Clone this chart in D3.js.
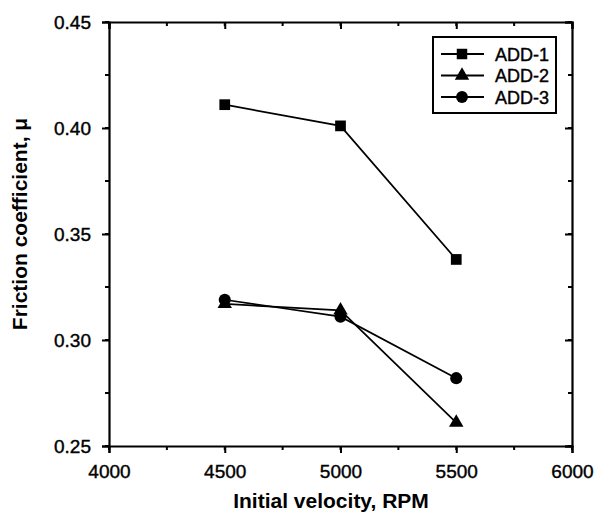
<!DOCTYPE html>
<html>
<head>
<meta charset="utf-8">
<script src="https://cdn.jsdelivr.net/npm/d3@7"></script>
<style>
  body { margin: 0; background: #fff; }
  text { font-family: "Liberation Sans", Arial, sans-serif; fill: #000; }
</style>
</head>
<body>
<svg width="597" height="517"></svg>
<script>
// velocities (RPM)
var velocities = [4500, 5000, 5500];
// friction coefficient per additive
var add1 = [0.411, 0.401, 0.338];
var add2 = [0.317, 0.314, 0.261];
var add3 = [0.319, 0.311, 0.282];
var seriesNames = ["ADD-1", "ADD-2", "ADD-3"];
var seriesSymbols = [d3.symbolSquare, d3.symbolTriangle, d3.symbolCircle];
var xTicks = [4000, 4500, 5000, 5500, 6000];
var yTicks = [0.25, 0.30, 0.35, 0.40, 0.45];

var series = [add1, add2, add3].map(function (vals, i) {
    return {
        name: seriesNames[i],
        symbol: seriesSymbols[i],
        points: vals.map(function (v, j) { return { x: velocities[j], y: v }; })
    };
});

var svg = d3.select("svg");
// plot frame (note: "top" is reserved on window, so use plotTop)
var plotLeft = 109, plotRight = 572, plotTop = 22, plotBottom = 446;

var x = d3.scaleLinear().domain([4000, 6000]).range([plotLeft, plotRight]);
var y = d3.scaleLinear().domain([0.25, 0.45]).range([plotBottom, plotTop]);

var minorX = d3.range(4000, 6001, 250);
var minorY = d3.range(0, 9).map(function (i) { return 0.25 + i * 0.025; });

// bottom axis (ticks outside)
var gx = svg.append("g").attr("transform", "translate(0," + plotBottom + ")")
    .call(d3.axisBottom(x).tickValues(xTicks).tickFormat(d3.format("d")).tickSize(7).tickPadding(12));
gx.append("g").selectAll("line").data(minorX).join("line")
    .attr("x1", x).attr("x2", x).attr("y1", 0).attr("y2", 4).attr("stroke", "#000").attr("stroke-width", 2);

// left axis (ticks outside)
var gy = svg.append("g").attr("transform", "translate(" + plotLeft + ",0)")
    .call(d3.axisLeft(y).tickValues(yTicks).tickFormat(d3.format(".2f")).tickSize(7).tickPadding(11));
gy.append("g").selectAll("line").data(minorY).join("line")
    .attr("y1", y).attr("y2", y).attr("x1", 0).attr("x2", -4).attr("stroke", "#000").attr("stroke-width", 2);

// top axis (ticks inside, no labels)
var gt = svg.append("g").attr("transform", "translate(0," + plotTop + ")")
    .call(d3.axisBottom(x).tickValues(xTicks).tickFormat("").tickSize(7));
gt.append("g").selectAll("line").data(minorX).join("line")
    .attr("x1", x).attr("x2", x).attr("y1", 0).attr("y2", 4).attr("stroke", "#000").attr("stroke-width", 2);

// right axis (ticks inside, no labels)
var gr = svg.append("g").attr("transform", "translate(" + plotRight + ",0)")
    .call(d3.axisLeft(y).tickValues(yTicks).tickFormat("").tickSize(7));
gr.append("g").selectAll("line").data(minorY).join("line")
    .attr("y1", y).attr("y2", y).attr("x1", 0).attr("x2", -4).attr("stroke", "#000").attr("stroke-width", 2);

svg.selectAll(".domain").attr("stroke", "#000").attr("stroke-width", 2.2);
svg.selectAll(".tick line").attr("stroke", "#000").attr("stroke-width", 2);
svg.selectAll(".tick text").attr("font-size", "19px").attr("font-family", "Liberation Sans, Arial, sans-serif")
    .attr("stroke", "#000").attr("stroke-width", 0.4);

// data lines + markers
var line = d3.line().x(function (d) { return x(d.x); }).y(function (d) { return y(d.y); });

series.forEach(function (s) {
    svg.append("path").datum(s.points)
        .attr("d", line).attr("fill", "none").attr("stroke", "#000").attr("stroke-width", 1.7);
    svg.append("g").selectAll("path").data(s.points).join("path")
        .attr("transform", function (d) { return "translate(" + x(d.x) + "," + y(d.y) + ")"; })
        .attr("d", d3.symbol().type(s.symbol).size(s.symbol === d3.symbolTriangle ? 90 : 115))
        .attr("fill", "#000");
});

// legend
var lg = svg.append("g");
lg.append("rect").attr("x", 433).attr("y", 37).attr("width", 123).attr("height", 76)
    .attr("fill", "#fff").attr("stroke", "#000").attr("stroke-width", 2);
series.forEach(function (s, i) {
    var ly = 54 + i * 21.5;
    lg.append("line").attr("x1", 441).attr("x2", 484).attr("y1", ly).attr("y2", ly)
        .attr("stroke", "#000").attr("stroke-width", 2);
    lg.append("path").attr("transform", "translate(462," + ly + ")")
        .attr("d", d3.symbol().type(s.symbol).size(s.symbol === d3.symbolTriangle ? 90 : 110))
        .attr("fill", "#000");
    lg.append("text").attr("x", 495).attr("y", ly + 6.5).attr("font-size", "18px")
        .attr("stroke", "#000").attr("stroke-width", 0.4).text(s.name);
});

// axis titles
svg.append("text").attr("x", 331).attr("y", 508)
    .attr("text-anchor", "middle").attr("font-size", "21px").attr("font-weight", "bold")
    .text("Initial velocity, RPM");

svg.append("text")
    .attr("transform", "translate(27,224) rotate(-90)")
    .attr("text-anchor", "middle").attr("font-size", "21px").attr("font-weight", "bold")
    .text("Friction coefficient, \u03bc");
</script>
</body>
</html>
